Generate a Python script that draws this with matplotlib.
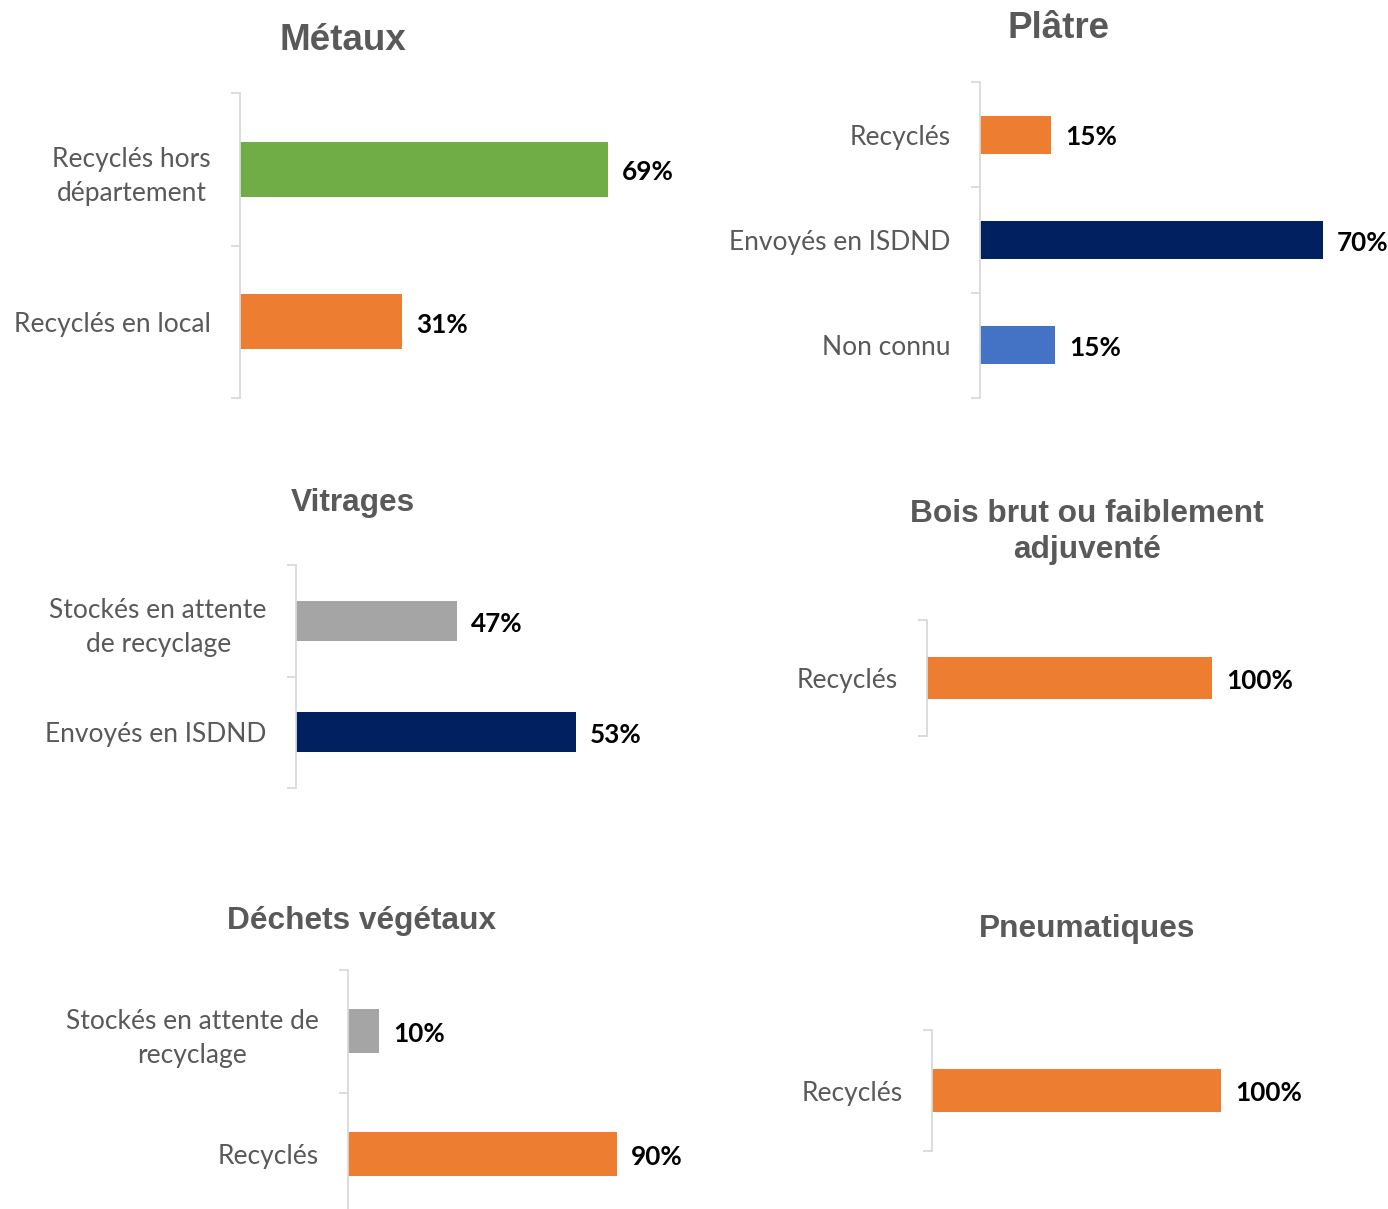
import matplotlib.pyplot as plt

W, H = 1388, 1209
plt.rcParams['font.family'] = ['Lato', 'DejaVu Sans']

# ---- data ----
metaux_cats = ["Recyclés hors\ndépartement", "Recyclés en local"]
metaux_vals = [69, 30.4]
metaux_lbls = ["69%", "31%"]
metaux_cols = ["#70AD47", "#ED7D31"]

platre_cats = ["Recyclés", "Envoyés en ISDND", "Non connu"]
platre_vals = [14.5, 70, 15.3]
platre_lbls = ["15%", "70%", "15%"]
platre_cols = ["#ED7D31", "#002060", "#4472C4"]

vitrages_cats = ["Stockés en attente\nde recyclage", "Envoyés en ISDND"]
vitrages_vals = [30.5, 53]
vitrages_lbls = ["47%", "53%"]
vitrages_cols = ["#A5A5A5", "#002060"]

bois_cats = ["Recyclés"]
bois_vals = [100]
bois_lbls = ["100%"]
bois_cols = ["#ED7D31"]

dechets_cats = ["Stockés en attente de\nrecyclage", "Recyclés"]
dechets_vals = [10.4, 90]
dechets_lbls = ["10%", "90%"]
dechets_cols = ["#A5A5A5", "#ED7D31"]

pneus_cats = ["Recyclés"]
pneus_vals = [100]
pneus_lbls = ["100%"]
pneus_cols = ["#ED7D31"]

fig = plt.figure(figsize=(W / 100, H / 100), dpi=100)


def panel(x, w, ytop, ybot, cats, vals, lbls, cols):
    # positions en pixels -> coordonnées figure
    ax = fig.add_axes([x / W, 1 - ybot / H, w / W, (ybot - ytop) / H])
    n = len(cats)
    pos = list(range(n))
    ax.barh(pos, vals, height=0.36, color=cols)
    ax.set_xlim(0, 100)
    ax.set_ylim(n - 0.5, -0.5)
    for s in ["top", "right", "bottom"]:
        ax.spines[s].set_visible(False)
    ax.spines["left"].set_color("#d9d9d9")
    ax.spines["left"].set_linewidth(1.3)
    ax.xaxis.set_visible(False)
    ax.set_yticks(pos)
    ax.set_yticklabels(cats, fontsize=19, color="#595959")
    for t in ax.get_yticklabels():
        t.set_multialignment("center")
        t.set_linespacing(1.45)
    ax.tick_params(axis="y", which="major", length=0, pad=21)
    ax.set_yticks([i - 0.5 for i in range(n + 1)], minor=True)
    ax.tick_params(axis="y", which="minor", length=6.5, width=1.3, color="#d9d9d9")
    for i, (v, l) in enumerate(zip(vals, lbls)):
        ax.annotate(l, xy=(v, i), xytext=(10, -2), textcoords="offset points",
                    va="center", ha="left", fontsize=18.8, fontweight="bold", color="black")
    return ax


panel(240, 533, 93, 398, metaux_cats, metaux_vals, metaux_lbls, metaux_cols)
panel(980, 490, 82, 398, platre_cats, platre_vals, platre_lbls, platre_cols)
panel(296, 528, 565, 788, vitrages_cats, vitrages_vals, vitrages_lbls, vitrages_cols)
panel(927, 285, 620, 736, bois_cats, bois_vals, bois_lbls, bois_cols)
panel(348, 299, 970, 1215, dechets_cats, dechets_vals, dechets_lbls, dechets_cols)
panel(932, 289, 1030, 1151, pneus_cats, pneus_vals, pneus_lbls, pneus_cols)


def titre(x, y, s, size):
    fig.text(x / W, 1 - y / H, s, ha="center", va="center", fontsize=size,
             fontweight="bold", color="#595959", family="Liberation Sans",
             linespacing=1.3)


titre(343, 41, "Métaux", 26.5)
titre(1059, 29, "Plâtre", 26.5)
titre(353, 503, "Vitrages", 22.8)
titre(1087, 532, "Bois brut ou faiblement\nadjuventé", 22.8)
titre(362, 921, "Déchets végétaux", 22.8)
titre(1087, 929, "Pneumatiques", 22.8)

fig.savefig("out.png", dpi=100)
